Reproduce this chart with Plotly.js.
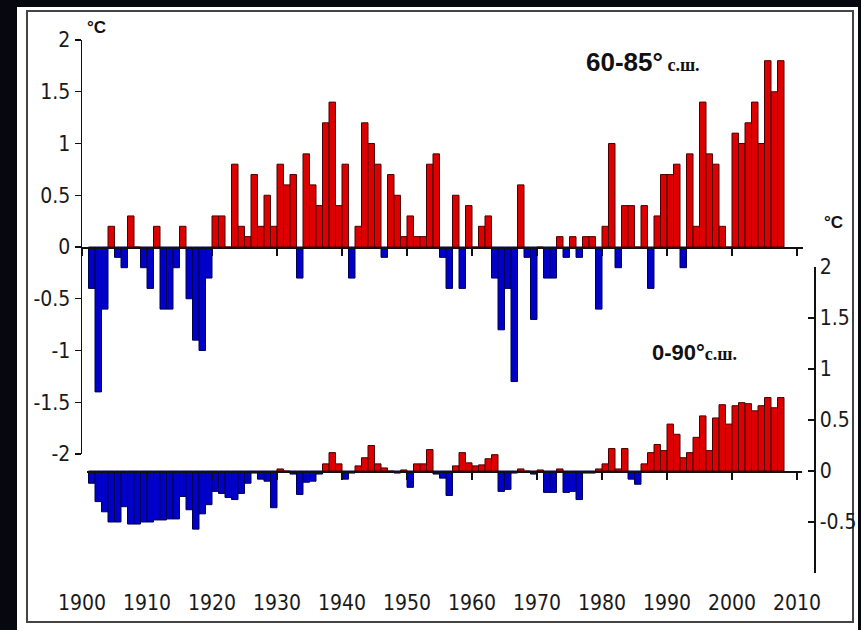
<!DOCTYPE html>
<html>
<head>
<meta charset="utf-8">
<script src="https://cdn.plot.ly/plotly-3.0.1.min.js"></script>
<style>html,body{margin:0;padding:0;background:#07070f;}#chart{width:861px;height:630px;}</style>
</head>
<body>
<div id="chart"></div>
<script>
// ---- data ----
const years = [];
for (let y = 1901; y <= 2007; y++) years.push(y);

// 60-85°N anomalies (left axis)
const arctic = [
 -0.4,-1.4,-0.6,0.2,-0.1,-0.2,0.3,0.0,-0.2,-0.4,
 0.2,-0.6,-0.6,-0.2,0.2,-0.5,-0.9,-1.0,-0.3,0.3,
 0.3,0.0,0.8,0.2,0.1,0.7,0.2,0.5,0.2,0.8,
 0.6,0.7,-0.3,0.9,0.6,0.4,1.2,1.4,0.4,0.8,
 -0.3,0.2,1.2,1.0,0.8,-0.1,0.7,0.5,0.1,0.3,
 0.1,0.1,0.8,0.9,-0.1,-0.4,0.5,-0.4,0.4,0.0,
 0.2,0.3,-0.3,-0.8,-0.4,-1.3,0.6,-0.1,-0.7,0.0,
 -0.3,-0.3,0.1,-0.1,0.1,-0.1,0.1,0.1,-0.6,0.2,
 1.0,-0.2,0.4,0.4,0.0,0.4,-0.4,0.3,0.7,0.7,
 0.8,-0.2,0.9,0.2,1.4,0.9,0.8,0.2,0.0,1.1,
 1.0,1.2,1.4,1.0,1.8,1.5,1.8
];

// 0-90°N anomalies (right axis)
const hemis = [
 -0.12,-0.30,-0.40,-0.50,-0.50,-0.35,-0.52,-0.52,-0.50,-0.50,
 -0.48,-0.48,-0.47,-0.47,-0.25,-0.38,-0.57,-0.42,-0.33,-0.20,
 -0.22,-0.26,-0.28,-0.22,-0.12,-0.02,-0.08,-0.10,-0.36,0.02,
 0.00,-0.03,-0.23,-0.11,-0.10,-0.03,0.07,0.18,0.07,-0.08,
 -0.02,0.05,0.13,0.25,0.07,0.03,0.00,-0.02,0.01,-0.16,
 0.07,0.07,0.21,-0.03,-0.07,-0.24,0.05,0.18,0.08,0.05,
 0.06,0.12,0.16,-0.20,-0.18,-0.02,0.02,0.00,-0.03,0.01,
 -0.21,-0.21,0.02,-0.21,-0.20,-0.28,-0.02,-0.02,0.02,0.07,
 0.22,0.02,0.22,-0.08,-0.13,0.07,0.18,0.26,0.20,0.46,
 0.36,0.13,0.18,0.33,0.54,0.20,0.52,0.65,0.46,0.64,
 0.67,0.66,0.59,0.64,0.72,0.62,0.72
];

const decadeTicks = [1900,1910,1920,1930,1940,1950,1960,1970,1980,1990,2000,2010];
const leftTicks = [2,1.5,1,0.5,0,-0.5,-1,-1.5,-2];
const rightTicks = [2,1.5,1,0.5,0,-0.5,-1];
const rightTickText = ['2','1.5','1','0.5','0','-0.5',''];

// ---- geometry (pixels) ----
const W = 861, H = 630;
const L = 82, R = 814, T = 30, B = 588;
const pxPerYear = 6.5;
const px2x = p => (p - L) / (R - L);
const py2y = p => (B - p) / (B - T);
const xRange = [1900, 1900 + (R - L) / pxPerYear];

const yDom = [py2y(454), py2y(40)];
const y2Dom = [py2y(573), py2y(267)];
const yRange = [-2, 2];
const y2Range = [-1, 2];
const zeroPos = (dom, rng) => dom[0] + (0 - rng[0]) / (rng[1] - rng[0]) * (dom[1] - dom[0]);
const subRange = dom => [xRange[0] + (xRange[1]-xRange[0]) * dom[0], xRange[0] + (xRange[1]-xRange[0]) * dom[1]];

const RED = '#dc0000', RED_EDGE = '#4a0000';
const BLUE = '#0000c8', BLUE_EDGE = '#000050';
const colorOf = v => v >= 0 ? RED : BLUE;
const edgeOf = v => v >= 0 ? RED_EDGE : BLUE_EDGE;

const tickFont = {family: '"Liberation Sans Narrow", "DejaVu Sans Condensed", "Liberation Sans", Arial, sans-serif', size: 21, color: '#1a1a1a'};

const upDom = [0, px2x(803)];
const loDom = [px2x(87), px2x(802)];
const upZero = zeroPos(yDom, yRange);
const loZero = zeroPos(y2Dom, y2Range);

const traces = [
  {type: 'bar', x: years, y: arctic, xaxis: 'x', yaxis: 'y', width: 1, offset: 0,
   marker: {color: arctic.map(colorOf), line: {color: arctic.map(edgeOf), width: 1}}, hoverinfo: 'x+y'},
  {type: 'bar', x: years, y: hemis, xaxis: 'x', yaxis: 'y2', width: 1, offset: 0,
   marker: {color: hemis.map(colorOf), line: {color: hemis.map(edgeOf), width: 1}}, hoverinfo: 'x+y'},
  // empty traces that only register the zero-line helper subplots
  {type: 'scatter', x: [], y: [], xaxis: 'x2', yaxis: 'y3', hoverinfo: 'skip'},
  {type: 'scatter', x: [], y: [], xaxis: 'x3', yaxis: 'y4', hoverinfo: 'skip'}
];

const axisLine = {showline: true, linecolor: '#111', linewidth: 1.5, ticks: 'outside', ticklen: 7,
  tickwidth: 1.2, tickcolor: '#111', showticklabels: false, showgrid: false, zeroline: false,
  tickmode: 'array', tickvals: decadeTicks, fixedrange: true, side: 'bottom'};
const hiddenY = {showline: false, showticklabels: false, ticks: '', showgrid: false, zeroline: false, fixedrange: true, range: [0, 1]};

const layout = {
  width: W, height: H,
  margin: {l: L, r: W - R, t: T, b: H - B, pad: 0},
  paper_bgcolor: '#07070f',
  plot_bgcolor: 'rgba(0,0,0,0)',
  showlegend: false,
  barmode: 'overlay',
  bargap: 0,
  xaxis: {range: xRange, anchor: 'free', position: 0, showline: false, ticks: '',
    tickvals: decadeTicks, ticktext: decadeTicks.map(String), tickfont: tickFont,
    showgrid: false, zeroline: false, fixedrange: true},
  xaxis2: Object.assign({}, axisLine, {anchor: 'y3', domain: upDom, range: subRange(upDom)}),
  xaxis3: Object.assign({}, axisLine, {anchor: 'y4', domain: loDom, range: subRange(loDom)}),
  yaxis3: Object.assign({}, hiddenY, {anchor: 'x2', domain: [upZero, 1]}),
  yaxis4: Object.assign({}, hiddenY, {anchor: 'x3', domain: [loZero, 1]}),
  yaxis: {domain: yDom, range: yRange, anchor: 'x', side: 'left', showline: true, linecolor: '#111', linewidth: 1.5,
    ticks: 'outside', ticklen: 6, tickwidth: 1.2, tickcolor: '#111', tickvals: leftTicks,
    ticktext: leftTicks.map(String), tickfont: tickFont, showgrid: false, zeroline: false, fixedrange: true},
  yaxis2: {domain: y2Dom, range: y2Range, anchor: 'x', side: 'right', showline: true,
    linecolor: '#111', linewidth: 1.5, ticks: 'inside', ticklen: 6, tickwidth: 1.2, tickcolor: '#111',
    tickvals: rightTicks, ticktext: rightTickText, tickfont: tickFont, showgrid: false, zeroline: false, fixedrange: true},
  shapes: [
    {type: 'rect', xref: 'paper', yref: 'paper', layer: 'below',
     x0: px2x(17), x1: px2x(858), y0: py2y(630), y1: py2y(7),
     fillcolor: '#ffffff', line: {width: 0}},
    {type: 'rect', xref: 'paper', yref: 'paper', layer: 'below',
     x0: px2x(27), x1: px2x(853), y0: py2y(622), y1: py2y(11),
     fillcolor: 'rgba(0,0,0,0)', line: {color: '#444', width: 2}}
  ],
  annotations: [
    {xref: 'paper', yref: 'paper', x: px2x(96), y: py2y(27), xanchor: 'center', yanchor: 'middle', showarrow: false,
     text: '<b>°C</b>', font: {family: '"Liberation Sans", Arial, sans-serif', size: 17, color: '#111'}},
    {xref: 'paper', yref: 'paper', x: px2x(833), y: py2y(222), xanchor: 'center', yanchor: 'middle', showarrow: false,
     text: '<b>°C</b>', font: {family: '"Liberation Sans", Arial, sans-serif', size: 17, color: '#111'}},
    {xref: 'paper', yref: 'paper', x: px2x(584), y: py2y(62), xanchor: 'left', yanchor: 'middle', showarrow: false,
     text: '<b>60-85°</b><span style="font-family:Liberation Serif;font-size:18px"><b> с.ш.</b></span>',
     font: {family: '"Liberation Sans", Arial, sans-serif', size: 26, color: '#111'}},
    {xref: 'paper', yref: 'paper', x: px2x(650), y: py2y(352), xanchor: 'left', yanchor: 'middle', showarrow: false,
     text: '<b>0-90°</b><span style="font-family:Liberation Serif;font-size:18px"><b>с.ш.</b></span>',
     font: {family: '"Liberation Sans", Arial, sans-serif', size: 22, color: '#111'}}
  ]
};

Plotly.newPlot('chart', traces, layout, {displayModeBar: false, staticPlot: true});
</script>
</body>
</html>
